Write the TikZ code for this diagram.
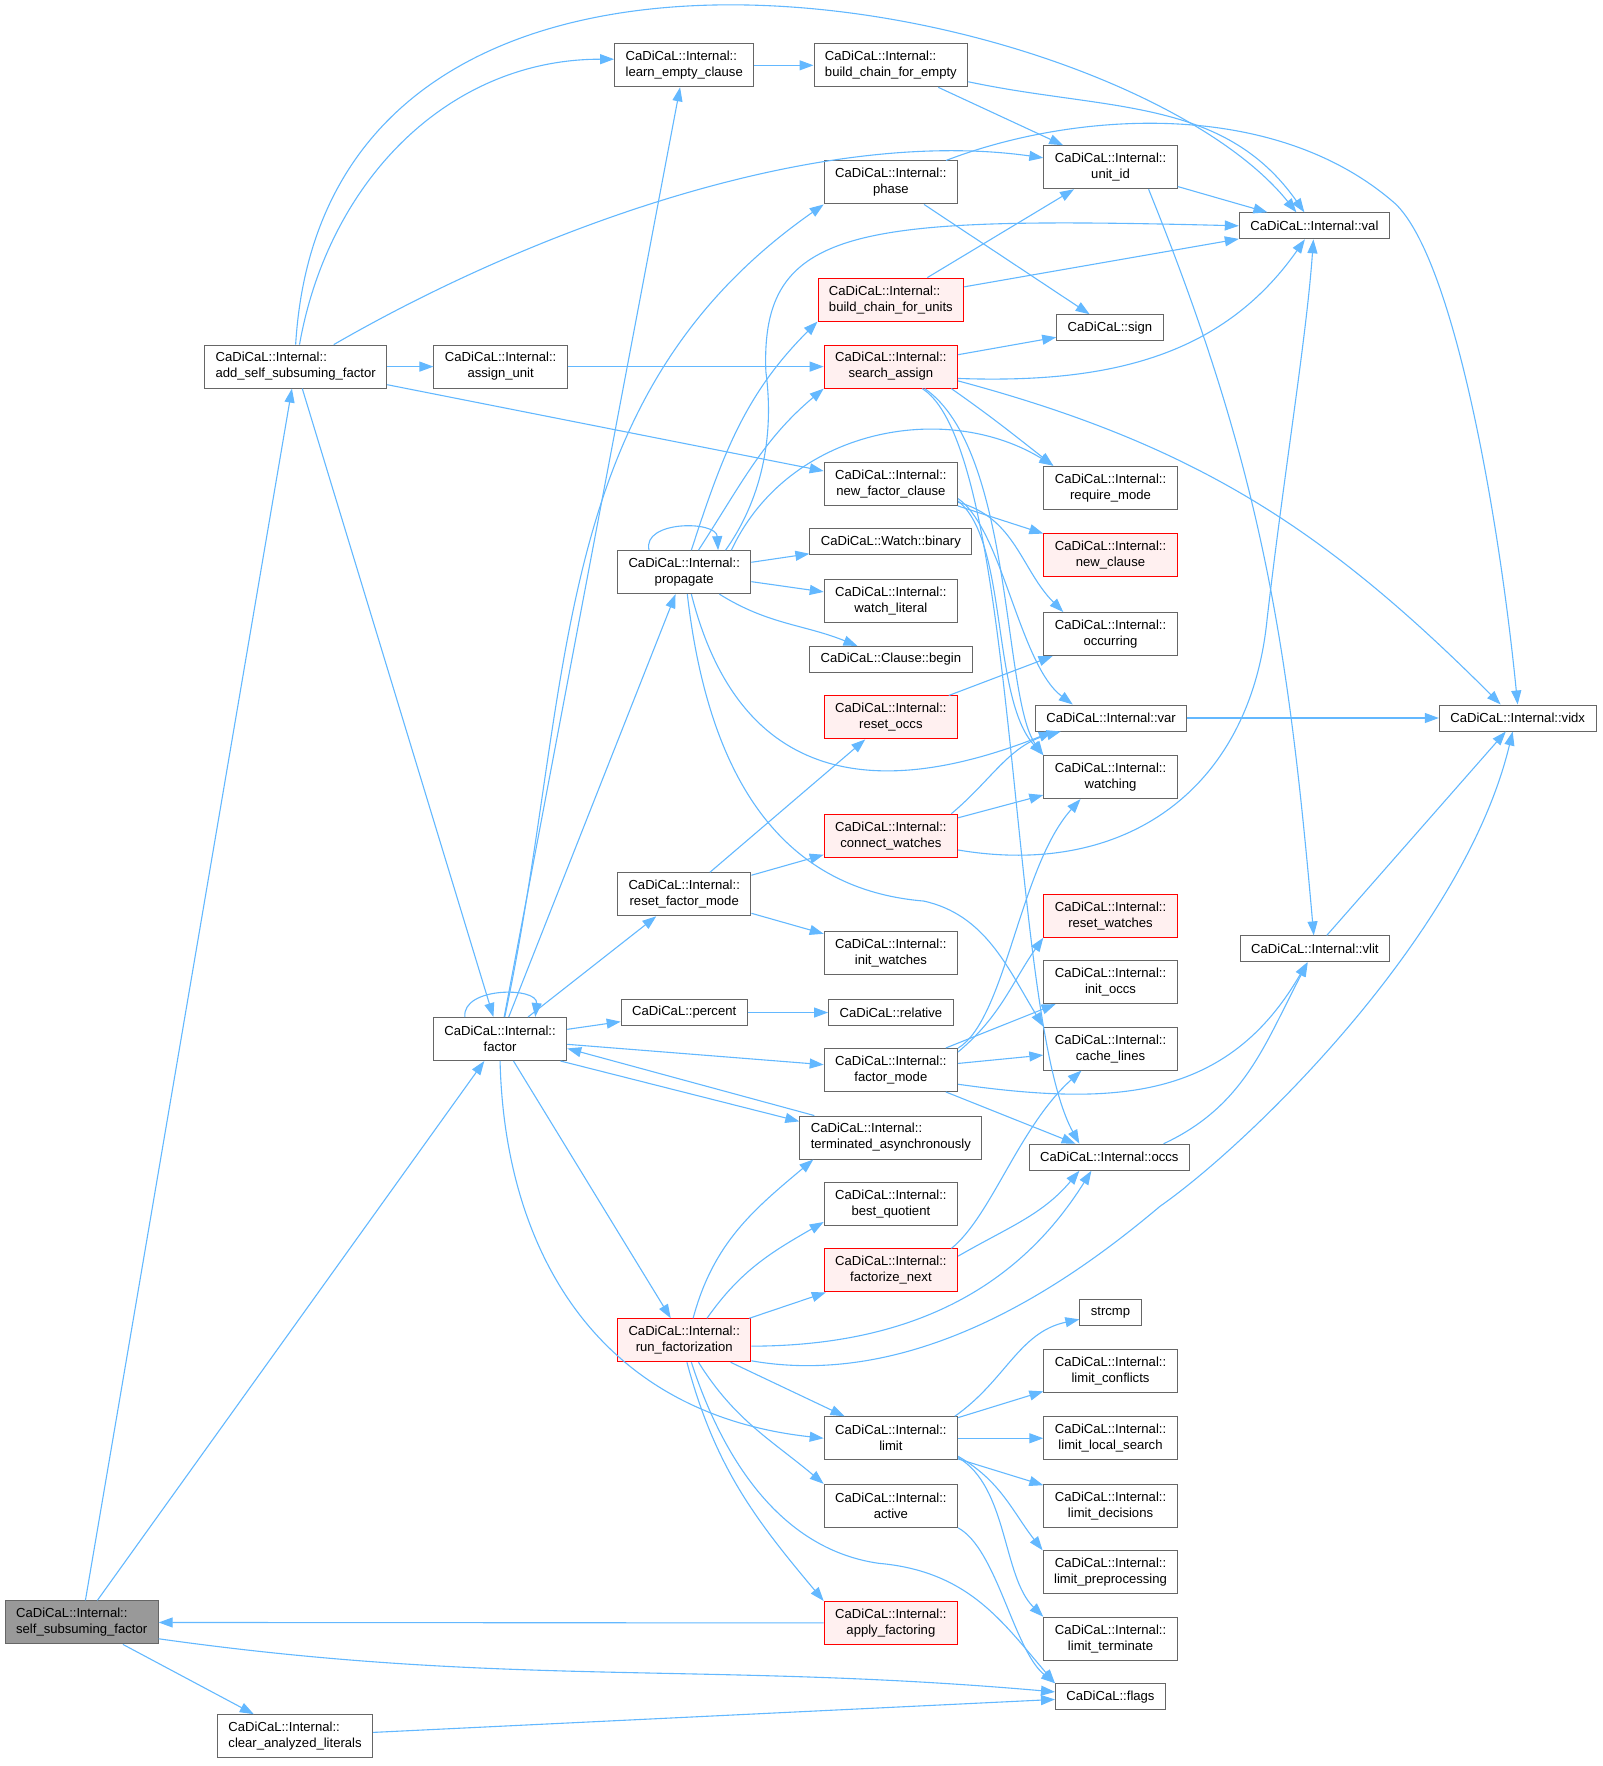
\documentclass[tikz,border=0pt]{standalone}
\usepackage{fontspec}
\setmainfont{Liberation Sans}
\usepackage{tikz}
\usetikzlibrary{arrows.meta,positioning,calc}
\definecolor{dxedge}{HTML}{63B8FF}
\definecolor{dxline}{HTML}{666666}
\definecolor{dxroot}{HTML}{999999}
\definecolor{dxred}{HTML}{FF0000}
\definecolor{dxredfill}{HTML}{FFF0F0}

\begin{document}
\begin{tikzpicture}[
  x=1.1265pt, y=-1.1265pt,
  box/.style={draw=dxline, fill=white, line width=1pt, inner xsep=11pt, inner ysep=2pt, minimum height=43pt, align=center, font=\fontsize{13.1}{16}\selectfont},
  sbox/.style={box, minimum height=26pt},
  hot/.style={draw=dxred, fill=dxredfill},
  root/.style={fill=dxroot},
  arr/.style={-{Triangle[length=14pt,width=10pt]}, draw=dxedge, line width=1.1pt},
]
  \useasboundingbox (0,0) rectangle (1423,1568);

  \node[box, root, align=left] (ssf) at (72.5,1440.5) {CaDiCaL::Internal::\\self\_subsuming\_factor};
  \node[box, align=left] (asf) at (262.5,325.5) {CaDiCaL::Internal::\\add\_self\_subsuming\_factor};
  \node[box] (factor) at (444,922.5) {CaDiCaL::Internal::\\factor};
  \node[box, align=left] (cal) at (262,1541.5) {CaDiCaL::Internal::\\clear\_analyzed\_literals};
  \node[box, align=left] (lec) at (607.5,58) {CaDiCaL::Internal::\\learn\_empty\_clause};
  \node[box] (au) at (444.5,325.5) {CaDiCaL::Internal::\\assign\_unit};
  \node[box] (prop) at (607.5,508) {CaDiCaL::Internal::\\propagate};
  \node[box] (rfm) at (607.5,794) {CaDiCaL::Internal::\\reset\_factor\_mode};
  \node[sbox] (pct) at (607.5,899) {CaDiCaL::percent};
  \node[box, hot] (runf) at (607.5,1190) {CaDiCaL::Internal::\\run\_factorization};

  \node[box, align=left] (bcfe) at (791,58) {CaDiCaL::Internal::\\build\_chain\_for\_empty};
  \node[box] (phase) at (791,162) {CaDiCaL::Internal::\\phase};
  \node[box, hot, align=left] (bcfu) at (791,266) {CaDiCaL::Internal::\\build\_chain\_for\_units};
  \node[box, hot] (sa) at (791,325.5) {CaDiCaL::Internal::\\search\_assign};
  \node[box] (nfc) at (791,430) {CaDiCaL::Internal::\\new\_factor\_clause};
  \node[sbox] (wbin) at (791,481) {CaDiCaL::Watch::binary};
  \node[box] (wlit) at (791,534) {CaDiCaL::Internal::\\watch\_literal};
  \node[sbox] (cbeg) at (791,585.5) {CaDiCaL::Clause::begin};
  \node[box, hot] (rocc) at (791,637) {CaDiCaL::Internal::\\reset\_occs};
  \node[box, hot] (cw) at (791,742) {CaDiCaL::Internal::\\connect\_watches};
  \node[box] (iw) at (791,846) {CaDiCaL::Internal::\\init\_watches};
  \node[sbox] (rel) at (791,899) {CaDiCaL::relative};
  \node[box] (fmode) at (791,950) {CaDiCaL::Internal::\\factor\_mode};
  \node[box, align=left] (tasync) at (791,1010) {CaDiCaL::Internal::\\terminated\_asynchronously};
  \node[box] (bq) at (791,1069) {CaDiCaL::Internal::\\best\_quotient};
  \node[box, hot] (fnext) at (791,1128) {CaDiCaL::Internal::\\factorize\_next};
  \node[box] (lim) at (791,1277) {CaDiCaL::Internal::\\limit};
  \node[box] (act) at (791,1337) {CaDiCaL::Internal::\\active};
  \node[box, hot] (apply) at (791,1441) {CaDiCaL::Internal::\\apply\_factoring};

  \node[box] (uid) at (986,148.5) {CaDiCaL::Internal::\\unit\_id};
  \node[sbox] (val) at (1167,200.5) {CaDiCaL::Internal::val};
  \node[sbox] (sgn) at (985.5,291) {CaDiCaL::sign};
  \node[box] (rmode) at (986,433) {CaDiCaL::Internal::\\require\_mode};
  \node[box, hot] (nclause) at (986,493) {CaDiCaL::Internal::\\new\_clause};
  \node[box] (occurring) at (986,563) {CaDiCaL::Internal::\\occurring};
  \node[sbox] (var) at (986.5,637.5) {CaDiCaL::Internal::var};
  \node[box] (watching) at (986,690) {CaDiCaL::Internal::\\watching};
  \node[box, hot] (rwatch) at (986,813) {CaDiCaL::Internal::\\reset\_watches};
  \node[box] (iocc) at (986,872) {CaDiCaL::Internal::\\init\_occs};
  \node[box] (cache) at (986,931) {CaDiCaL::Internal::\\cache\_lines};
  \node[sbox] (occs) at (985,1027.5) {CaDiCaL::Internal::occs};
  \node[sbox] (strcmp) at (986,1165.5) {strcmp};
  \node[box] (lconf) at (986,1217) {CaDiCaL::Internal::\\limit\_conflicts};
  \node[box] (llocal) at (986,1277) {CaDiCaL::Internal::\\limit\_local\_search};
  \node[box] (ldec) at (986,1337) {CaDiCaL::Internal::\\limit\_decisions};
  \node[box] (lpre) at (986,1396) {CaDiCaL::Internal::\\limit\_preprocessing};
  \node[box] (lterm) at (986,1455) {CaDiCaL::Internal::\\limit\_terminate};
  \node[sbox] (flags) at (986,1506.5) {CaDiCaL::flags};
  \node[sbox] (vlit) at (1167.5,842.5) {CaDiCaL::Internal::vlit};
  \node[sbox] (vidx) at (1347.5,637.5) {CaDiCaL::Internal::vidx};

  \draw[arr] (ssf) -- (asf);
  \draw[arr] (ssf) -- (factor);
  \draw[arr] (ssf) -- (cal);
  \draw[arr] (ssf.-12) to[out=-8,in=175] (flags);

  \draw[arr] (asf) to[out=80,in=180] (lec.175);
  \draw[arr] (asf.north) .. controls (290,-150) and (1000,0) .. ([xshift=-18pt]val.north);
  \draw[arr] (asf) to[out=30,in=172,looseness=0.8] (uid);
  \draw[arr] (asf) -- (au);
  \draw[arr] (asf) -- (nfc);
  \draw[arr] (asf) -- (factor);
  \draw[arr] (au) -- (sa);

  \draw[arr] (lec) -- (bcfe);
  \draw[arr] (bcfe) -- (uid);
  \draw[arr] (bcfe) to[out=-12,in=125] ([xshift=-10pt]val.north);
  \draw[arr] (phase) -- (sgn);
  \draw[arr] ([xshift=-12pt]phase.north east) .. controls (950,100) and (1130,85) .. (1239,181) .. controls (1290,230) and (1330,450) .. (vidx.north);
  \draw[arr] (bcfu) -- (uid);
  \draw[arr] (bcfu) -- (val);

  \draw[arr] (sa) -- (sgn);
  \draw[arr] (sa.-10) to[out=-2,in=-125] (val);
  \draw[arr] (sa.-20) to[out=-35,in=142] ([xshift=10pt]rmode.north west);
  \draw[arr] (sa.-12) to[out=-15,in=135] ([xshift=-17pt]vidx.north);
  \draw[arr] (sa.-33) .. controls (900,400) and (890,620) .. (watching.north west);
  \draw[arr] (sa.-35) .. controls (905,400) and (895,900) .. ([xshift=-30pt]occs.north);

  \draw[arr] (prop.148) .. controls (570,462) and (636,462) .. (prop.33);
  \draw[arr] (prop) to[out=72,in=-135] (bcfu.south west);
  \draw[arr] (prop) to[out=57,in=-140] (sa.south west);
  \draw[arr] (prop.28) .. controls (675,445) and (688,390) .. (680,330) .. controls (675,200) and (760,192) .. (val.west);
  \draw[arr] (prop.25) .. controls (700,380) and (840,355) .. ([xshift=10pt]rmode.north west);
  \draw[arr] (prop) -- (wbin);
  \draw[arr] (prop) -- (wlit);
  \draw[arr] (prop) to[out=-32,in=158] (cbeg);
  \draw[arr] (prop.-72) .. controls (655,690) and (770,715) .. ([xshift=18pt]var.south west);
  \draw[arr] (prop.-82) .. controls (630,700) and (700,790) .. (820,800) .. controls (875,812) and (895,860) .. (cache.north west);

  \draw[arr] (factor.148) .. controls (410,876) and (478,876) .. (factor.32);
  \draw[arr] (factor) -- (lec);
  \draw[arr] (factor) to[out=78,in=-145] (phase.south west);
  \draw[arr] (factor) -- (prop);
  \draw[arr] (factor) -- (rfm);
  \draw[arr] (factor) -- (pct);
  \draw[arr] (factor) -- (fmode);
  \draw[arr] (factor.-20) -- (tasync.170);
  \draw[arr] (factor) -- (runf);
  \draw[arr] (factor.south) .. controls (448,1110) and (530,1255) .. (lim.west);

  \draw[arr] (pct) -- (rel);
  \draw[arr] (rfm) -- (rocc);
  \draw[arr] (rfm) -- (cw);
  \draw[arr] (rfm) -- (iw);
  \draw[arr] (rocc) -- (occurring);
  \draw[arr] (cw.20) to[out=40,in=-165] (var);
  \draw[arr] (cw) -- (watching);
  \draw[arr] (cw.-12) .. controls (1000,780) and (1110,700) .. (1125,550) .. controls (1140,420) and (1160,300) .. (val);

  \draw[arr] (uid) -- (val);
  \draw[arr] (uid.-30) to[out=-68,in=95] (vlit);

  \draw[arr] (nfc) -- (nclause);
  \draw[arr] (nfc.-15) to[out=-15,in=135] ([xshift=20pt]occurring.north west);
  \draw[arr] (nfc.-12) .. controls (890,470) and (905,590) .. ([xshift=38pt]var.north west);
  \draw[arr] (nfc.-14) .. controls (895,480) and (880,620) .. (watching.north west);

  \draw[arr] (fmode.15) to[out=40,in=-125] (rwatch.south west);
  \draw[arr] (fmode.18) .. controls (893,905) and (905,770) .. ([xshift=-30pt]watching.south);
  \draw[arr] (fmode) -- (iocc);
  \draw[arr] (fmode) -- (cache);
  \draw[arr] (fmode) -- (occs);
  \draw[arr] (fmode.-12) to[out=-8,in=-120,looseness=1.1] (vlit);

  \draw[arr] ([xshift=15pt]tasync.north west) -- (factor.-8);

  \draw[arr] (runf.68) to[out=75,in=-140] ([xshift=14pt]tasync.south west);
  \draw[arr] (runf.44) to[out=55,in=-150] (bq.195);
  \draw[arr] (runf) -- (fnext);
  \draw[arr] (runf.-5) .. controls (800,1195) and (900,1150) .. ([xshift=-18pt]occs.south);
  \draw[arr] (runf.-17) .. controls (820,1235) and (960,1130) .. (1030,1071) .. controls (1110,1015) and (1300,830) .. ([xshift=-5pt]vidx.south);
  \draw[arr] (runf) -- (lim);
  \draw[arr] (runf.-57) to[out=-58,in=140] (act.north west);
  \draw[arr] (runf.-72) .. controls (640,1290) and (690,1375) .. (780,1388) .. controls (860,1395) and (890,1440) .. (flags.north west);
  \draw[arr] (runf.-83) to[out=-75,in=130] (apply.north west);

  \draw[arr] (fnext.20) .. controls (880,1080) and (905,1000) .. ([xshift=-29pt]cache.south);
  \draw[arr] (fnext.12) to[out=30,in=-130] ([xshift=-30pt]occs.south);

  \draw[arr] (lim.19) to[out=35,in=192] (strcmp);
  \draw[arr] (lim) -- (lconf);
  \draw[arr] (lim) -- (llocal);
  \draw[arr] (lim) -- (ldec);
  \draw[arr] (lim.-15) to[out=-30,in=128] (lpre.north west);
  \draw[arr] (lim.-16) .. controls (895,1320) and (890,1400) .. (lterm.north west);

  \draw[arr] (act.south east) .. controls (885,1375) and (900,1465) .. (flags.north west);
  \draw[arr] (apply) -- (ssf);
  \draw[arr] (cal) -- (flags);
  \draw[arr] (var) -- (vidx);
  \draw[arr] (occs.14) to[out=25,in=-118] (vlit);
  \draw[arr] (vlit) -- (vidx);
\end{tikzpicture}
\end{document}
